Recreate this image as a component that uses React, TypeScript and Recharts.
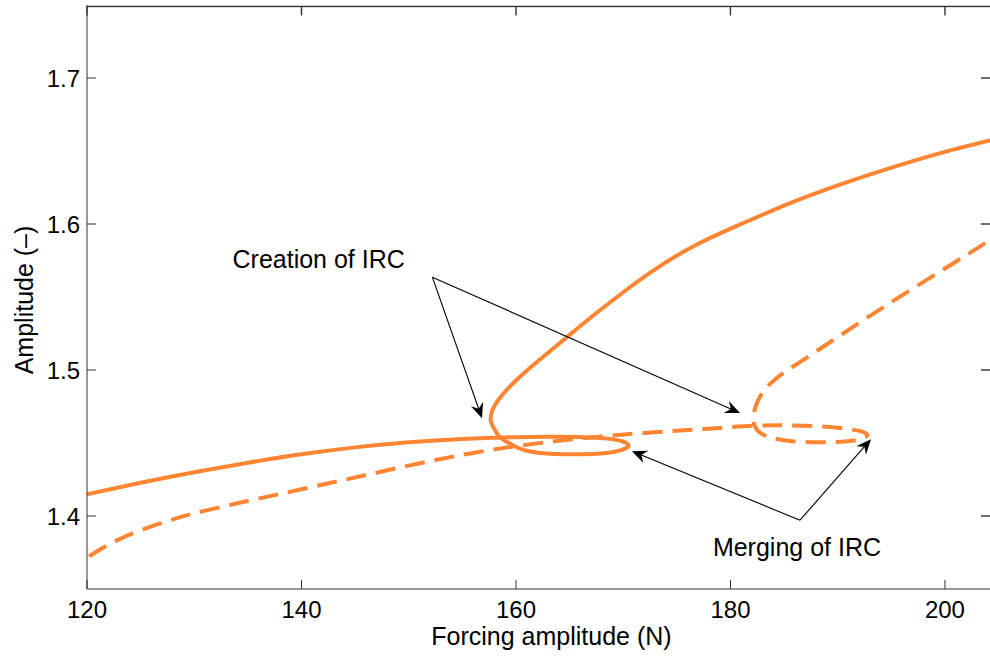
import React from "react";
import {
  ComposedChart,
  Line,
  ReferenceDot,
  ReferenceLine,
  XAxis,
  YAxis,
} from "recharts";

// stable branch (solid): main branch -> loop -> fold -> upper branch
const stableForce = [
  120, 125, 130, 135, 140, 145, 150, 155, 160, 164, 167, 168.5, 169.9, 170.47,
  170.16, 168.46, 165.31, 162.24, 160.37, 159.13, 158.35, 157.88, 157.64,
  157.8, 158.4, 159.4, 161, 162.9, 164.75, 167.5, 170.5, 173.5, 177, 181,
  185.8, 191.1, 196, 200, 204.2,
];
const stableAmp = [
  1.4149, 1.4228, 1.43, 1.4365, 1.4423, 1.447, 1.4505, 1.4528, 1.454, 1.4542,
  1.4537, 1.453, 1.4512, 1.4485, 1.4462, 1.4432, 1.4423, 1.4432, 1.4462,
  1.4508, 1.4553, 1.461, 1.4656, 1.4725, 1.48, 1.4885, 1.4995, 1.5112, 1.5225,
  1.539, 1.556, 1.5715, 1.5865, 1.6, 1.615, 1.6292, 1.6408, 1.6494, 1.6572,
];

// unstable branch (dashed)
const unstableForce = [
  120.2, 121.5, 123, 125, 127.5, 130, 133, 136, 140, 144, 148, 152, 156, 160,
  164, 168, 172, 176, 179, 182.2, 185, 188, 190, 191.5, 192.4, 192.75, 192.4,
  190.9, 188.3, 185.8, 184, 182.8, 182.35, 182.15, 182.15, 182.35, 182.94,
  183.87, 184.9, 186.48, 190, 195, 200, 204.2,
];
const unstableAmp = [
  1.3724, 1.3783, 1.384, 1.3902, 1.3965, 1.4018, 1.407, 1.4119, 1.4183,
  1.4248, 1.4313, 1.4376, 1.4432, 1.4478, 1.4515, 1.4545, 1.4569, 1.4589,
  1.4603, 1.4618, 1.4621, 1.4616, 1.4604, 1.459, 1.4575, 1.4555, 1.4532,
  1.4512, 1.4505, 1.4512, 1.4533, 1.4568, 1.4605, 1.4645, 1.469, 1.475,
  1.4842, 1.4917, 1.4979, 1.5054, 1.5225, 1.5465, 1.5695, 1.589,
];

const xTicks = [120, 140, 160, 180, 200];
const yTicks = [1.4, 1.5, 1.6, 1.7];
const xDomain = [120, 204.2];
const yDomain = [1.35, 1.75];
const boxTop = 1.749;

// annotations (data coordinates)
const creationText = { x: 141.6, y: 1.5757, label: "Creation of IRC" };
const creationFrom = { x: 152.2, y: 1.5636 };
const creationTo = [
  { x: 156.83, y: 1.467 },
  { x: 180.89, y: 1.4705 },
];
const mergingText = { x: 186.2, y: 1.3785, label: "Merging of IRC" };
const mergingFrom = { x: 186.48, y: 1.3971 };
const mergingTo = [
  { x: 170.82, y: 1.4444 },
  { x: 193.1, y: 1.4526 },
];

const ORANGE = "#ff8533";
const AXIS = "#333";
const FONT = "'Liberation Sans', Arial, Helvetica, sans-serif";
// inward tick length (9px) expressed in data units
const TICK_DX = 9 / (903 / (xDomain[1] - xDomain[0]));
const TICK_DY = 9 / (584 / (yDomain[1] - yDomain[0]));

const stable = stableForce.map((x, i) => ({ x, y: stableAmp[i] }));
const unstable = unstableForce.map((x, i) => ({ x, y: unstableAmp[i] }));

// frame pieces drawn as filled rects so they never vanish as hairlines
const FrameBar = (props: any) => {
  const { x1, y1, x2, y2 } = props;
  const w = 1.4;
  const x = Math.min(x1, x2) - (x1 === x2 ? w / 2 : 0);
  const y = Math.min(y1, y2) - (y1 === y2 ? w / 2 : 0);
  const width = x1 === x2 ? w : Math.abs(x2 - x1);
  const height = y1 === y2 ? w : Math.abs(y2 - y1);
  return <rect x={x} y={y} width={width} height={height} fill={AXIS} />;
};

const Arrow = (props: any) => {
  const { x1, y1, x2, y2 } = props;
  const a = Math.atan2(y2 - y1, x2 - x1);
  const c = Math.cos(a);
  const s = Math.sin(a);
  const len = 15;
  const half = 6.5;
  const notch = 10;
  const bx = x2 - len * c;
  const by = y2 - len * s;
  const nx = x2 - notch * c;
  const ny = y2 - notch * s;
  const pts = [
    [x2, y2],
    [bx - half * s, by + half * c],
    [nx, ny],
    [bx + half * s, by - half * c],
  ]
    .map((p) => p.join(","))
    .join(" ");
  return (
    <g>
      <line x1={x1} y1={y1} x2={nx} y2={ny} stroke="#000" strokeWidth={1.1} />
      <polygon points={pts} fill="#000" />
    </g>
  );
};

const XLabel = (props: any) => {
  const { viewBox } = props;
  return (
    <text
      x={viewBox.x + viewBox.width / 2 + 13}
      y={viewBox.y + 56}
      textAnchor="middle"
      fontSize={25}
      fontFamily={FONT}
      fill="#000"
    >
      Forcing amplitude (N)
    </text>
  );
};

const YLabel = () => (
  <text
    x={33}
    y={300}
    transform="rotate(-90, 33, 300)"
    textAnchor="middle"
    fontSize={25}
    fontFamily={FONT}
    fill="#000"
  >
    Amplitude (–)
  </text>
);

export default function App() {
  const tickStyle = { fill: "#000", fontSize: 24, fontFamily: FONT };
  return (
    <div style={{ position: "absolute", left: 0, top: 0, width: 990, height: 657, background: "#fff", overflow: "hidden" }}>
      <ComposedChart width={990} height={657} margin={{ top: 5, right: 0, bottom: 0, left: 0 }}>
        <XAxis
          dataKey="x"
          type="number"
          domain={xDomain}
          ticks={xTicks}
          allowDataOverflow
          height={68}
          tickSize={-9}
          tickMargin={21}
          stroke={AXIS}
          tick={tickStyle}
          label={<XLabel />}
        />
        <YAxis
          dataKey="y"
          type="number"
          domain={yDomain}
          ticks={yTicks}
          allowDataOverflow
          width={87}
          tickSize={-9}
          tickMargin={16}
          stroke={AXIS}
          tick={tickStyle}
          tickFormatter={(v: number) => v.toFixed(1)}
          label={<YLabel />}
        />
        {/* box: top border plus mirrored ticks on top and right */}
        <ReferenceLine
          segment={[{ x: xDomain[0], y: boxTop }, { x: xDomain[1], y: boxTop }]}
          shape={FrameBar}
          ifOverflow="visible"
        />
        {xTicks.map((t) => (
          <ReferenceLine
            key={"tt" + t}
            segment={[{ x: t, y: boxTop }, { x: t, y: boxTop - TICK_DY }]}
            shape={FrameBar}
            ifOverflow="visible"
          />
        ))}
        {yTicks.map((t) => (
          <ReferenceLine
            key={"rt" + t}
            segment={[{ x: xDomain[1] - TICK_DX, y: t }, { x: xDomain[1], y: t }]}
            shape={FrameBar}
            ifOverflow="visible"
          />
        ))}
        <Line
          data={unstable}
          dataKey="y"
          type="natural"
          stroke={ORANGE}
          strokeWidth={4}
          strokeDasharray="20 10"
          dot={false}
          activeDot={false}
          isAnimationActive={false}
        />
        <Line
          data={stable}
          dataKey="y"
          type="natural"
          stroke={ORANGE}
          strokeWidth={4}
          dot={false}
          activeDot={false}
          isAnimationActive={false}
        />
        {creationTo.map((t, i) => (
          <ReferenceLine key={"c" + i} segment={[creationFrom, t]} shape={Arrow} ifOverflow="visible" />
        ))}
        {mergingTo.map((t, i) => (
          <ReferenceLine key={"m" + i} segment={[mergingFrom, t]} shape={Arrow} ifOverflow="visible" />
        ))}
        {[creationText, mergingText].map((t) => (
          <ReferenceDot
            key={t.label}
            x={t.x}
            y={t.y}
            r={0}
            stroke="none"
            fill="none"
            ifOverflow="visible"
            label={{ value: t.label, position: "center", fontSize: 25, fontFamily: FONT, fill: "#000" }}
          />
        ))}
      </ComposedChart>
    </div>
  );
}
